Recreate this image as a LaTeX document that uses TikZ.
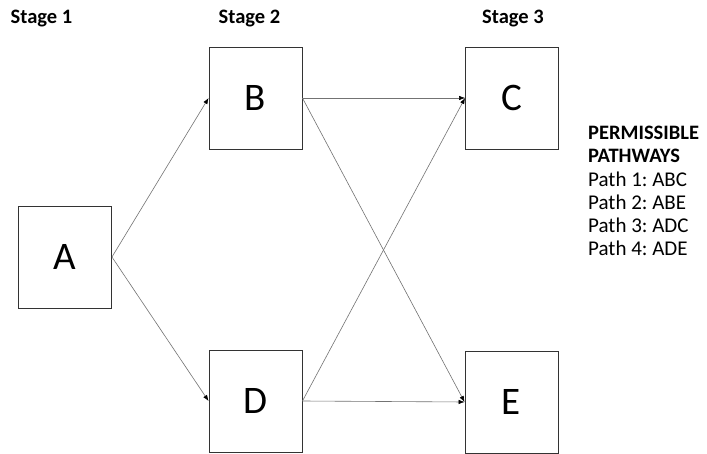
\documentclass[tikz,border=0pt]{standalone}
\usepackage{fontspec}
\setmainfont{Carlito}
\frenchspacing
\usetikzlibrary{arrows.meta}
\begin{document}
\begin{tikzpicture}[x=1pt,y=-1pt,
  stagebox/.style={draw=black!80,line width=0.9pt,minimum width=93pt,minimum height=102pt,
    inner sep=0pt,font=\fontsize{39}{44}\selectfont},
  stagelabel/.style={font=\bfseries\fontsize{20.5}{24}\selectfont,inner sep=0pt,anchor=base},
  link/.style={draw=black!55,line width=0.6pt,-{Latex[length=6pt,width=4.5pt,black]}},
  pathtext/.style={font=\fontsize{21}{24}\selectfont,inner sep=0pt,anchor=base west},
  pathhead/.style={pathtext,font=\bfseries\fontsize{20.5}{24}\selectfont}]
\useasboundingbox (0,0) rectangle (707,454);
\fill[white] (0,0) rectangle (707,454);
% stage headings
\node[stagelabel] (s1) at (41.5,24) {Stage 1};
\node[stagelabel] (s2) at (249.5,24) {Stage 2};
\node[stagelabel] (s3) at (513,24) {Stage 3};
% boxes
\node[stagebox] (A) at (65,257) {A};
\node[stagebox] (B) at (255.5,98) {B};
\node[stagebox] (C) at (512,98) {C};
\node[stagebox] (D) at (255.5,401) {D};
\node[stagebox] (E) at (511.5,402) {E};
% connectors
\draw[link] (A.east) -- (B.west);
\draw[link] (A.east) -- (D.west);
\draw[link] (B.east) -- (C.west);
\draw[link] (B.east) -- (E.west);
\draw[link] (D.east) -- (C.west);
\draw[link] (D.east) -- (E.west);
% list of pathways
\node[pathhead] (p0) at (588,140) {PERMISSIBLE};
\node[pathhead] (p00) at (588,163) {PATHWAYS};
\node[pathtext] (p1) at (588,186.5) {Path 1: ABC};
\node[pathtext] (p2) at (588,209.5) {Path 2: ABE};
\node[pathtext] (p3) at (588,232.5) {Path 3: ADC};
\node[pathtext] (p4) at (588,255.5) {Path 4: ADE};
\end{tikzpicture}
\end{document}
